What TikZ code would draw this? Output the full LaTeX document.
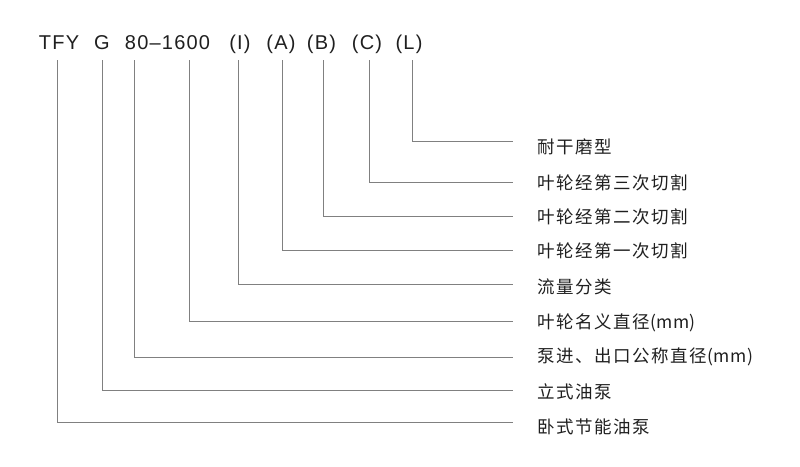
\documentclass[tikz,border=0pt]{standalone}
\usepackage{fontspec}
\setmainfont{Liberation Sans}
\newfontfamily\codefont[LetterSpace=6]{Liberation Sans}
\newfontfamily\cjkfont[LetterSpace=9]{Noto Sans CJK SC}
\newfontfamily\cjkplain[LetterSpace=3]{Noto Sans CJK SC}
\newcommand{\mmunit}{{\cjkplain (mm)}}
\tikzset{
  code/.style={font=\codefont\fontsize{20}{24}\selectfont, text=black!88, inner sep=0pt, anchor=base},
  lab/.style={font=\cjkfont\fontsize{17.5}{20}\selectfont, text=black!88, inner sep=0pt, anchor=west},
  conn/.style={draw=black!50, line width=0.9pt}
}
\begin{document}
\begin{tikzpicture}[x=1pt,y=-1pt]
\useasboundingbox (0,0) rectangle (800,466);
% title tokens
\node[code] (tfy) at (59,49) {TFY};
\node[code] (g) at (102,49) {G};
\node[code] (num) at (167.5,49) {80–1600};
\node[code] (pi) at (240,49) {(I)};
\node[code] (pa) at (281,49) {(A)};
\node[code] (pb) at (321.5,49) {(B)};
\node[code] (pc) at (367,49) {(C)};
\node[code] (pl) at (409,49) {(L)};
% line tops
\coordinate (t1) at (57,60);
\coordinate (t2) at (102,60);
\coordinate (t3) at (134,60);
\coordinate (t4) at (189,60);
\coordinate (t5) at (238,60);
\coordinate (t6) at (282,60);
\coordinate (t7) at (323,60);
\coordinate (t8) at (369,60);
\coordinate (t9) at (412,60);
% labels
\node[lab] (l9) at (537,147) {耐干磨型};
\node[lab] (l8) at (537,183) {叶轮经第三次切割};
\node[lab] (l7) at (537,217) {叶轮经第二次切割};
\node[lab] (l6) at (537,251) {叶轮经第一次切割};
\node[lab] (l5) at (537,287) {流量分类};
\node[lab] (l4) at (537,323) {叶轮名义直径\mmunit};
\node[lab] (l3) at (537,357) {泵进、出口公称直径\mmunit};
\node[lab] (l2) at (537,392) {立式油泵};
\node[lab] (l1) at (537,427) {卧式节能油泵};
% connectors
\draw[conn] (t9) |- ([xshift=-24pt,yshift=6pt]l9.west);
\draw[conn] (t8) |- ([xshift=-24pt,yshift=1pt]l8.west);
\draw[conn] (t7) |- ([xshift=-24pt,yshift=1pt]l7.west);
\draw[conn] (t6) |- ([xshift=-24pt,yshift=1pt]l6.west);
\draw[conn] (t5) |- ([xshift=-24pt,yshift=3pt]l5.west);
\draw[conn] (t4) |- ([xshift=-24pt,yshift=2pt]l4.west);
\draw[conn] (t3) |- ([xshift=-24pt,yshift=0pt]l3.west);
\draw[conn] (t2) |- ([xshift=-24pt,yshift=2pt]l2.west);
\draw[conn] (t1) |- ([xshift=-24pt,yshift=5pt]l1.west);
\end{tikzpicture}
\end{document}
